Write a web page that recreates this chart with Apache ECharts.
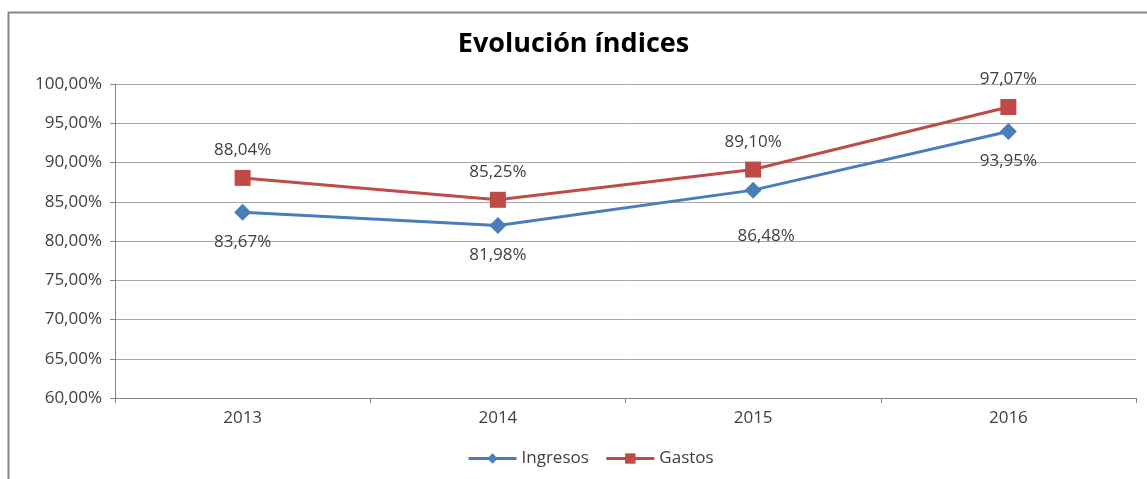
<!DOCTYPE html>
<html>
<head>
<meta charset="utf-8">
<title>Evolución índices</title>
<script src="https://cdn.jsdelivr.net/npm/echarts@6/dist/echarts.min.js"></script>
<style>
  html, body { margin: 0; padding: 0; background: #fff; }
  #main { width: 1147px; height: 479px; }
</style>
</head>
<body>
<div id="main"></div>
<script>
// datos
var years = ['2013', '2014', '2015', '2016'];
var ingresos = [83.67, 81.98, 86.48, 93.95];
var gastos = [88.04, 85.25, 89.10, 97.07];

function pct(v) {
    return v.toFixed(2).replace('.', ',') + '%';
}

var txt = '#404040';
var font = 'Open Sans';
var fs = 17;

// la etiqueta de 2015 (ingresos) esta movida mas abajo en el original
var ingresosData = ingresos.map(function (v, i) {
    if (i == 2) return { value: v, label: { offset: [13, 16] } };
    return v;
});

var myChart = echarts.init(document.getElementById('main'));
var option = {
    animation: false,
    backgroundColor: '#fff',
    graphic: [{
        type: 'rect',
        shape: { x: 8.5, y: 12.5, width: 1160, height: 500 },
        style: { fill: 'none', stroke: '#868686', lineWidth: 2 }
    }],
    title: {
        text: 'Evolución índices',
        left: 'center',
        top: 26,
        textStyle: { fontFamily: font, fontSize: 27, fontWeight: 'bold', color: '#000' }
    },
    legend: {
        bottom: 7,
        left: 462,
        itemWidth: 48,
        itemHeight: 13,
        itemGap: 16,
        lineStyle: { width: 3 },
        textStyle: { fontFamily: font, fontSize: fs, color: txt },
        data: ['Ingresos', 'Gastos']
    },
    grid: { left: 115, right: 11, top: 84, bottom: 81, containLabel: false },
    xAxis: {
        type: 'category',
        data: years,
        boundaryGap: true,
        axisLine: { lineStyle: { color: '#868686', width: 1 } },
        axisTick: { show: true, length: 5, lineStyle: { color: '#868686' } },
        axisLabel: { fontFamily: font, fontSize: fs, color: txt, margin: 12 }
    },
    yAxis: {
        type: 'value',
        min: 60,
        max: 100,
        interval: 5,
        axisLine: { show: true, lineStyle: { color: '#868686', width: 1 } },
        axisTick: { show: true, length: 5, lineStyle: { color: '#868686' } },
        splitLine: { lineStyle: { color: '#a6a6a6', width: 1 } },
        axisLabel: {
            fontFamily: font, fontSize: fs, color: txt, margin: 13,
            formatter: function (v) { return pct(v); }
        }
    },
    series: [
        {
            name: 'Ingresos',
            type: 'line',
            data: ingresosData,
            symbol: 'diamond',
            symbolSize: 17,
            lineStyle: { width: 3, color: '#4a7ebb' },
            itemStyle: { color: '#4a7ebb' },
            label: {
                show: true, position: 'bottom', distance: 13,
                fontFamily: font, fontSize: fs, color: txt,
                formatter: function (p) { return pct(p.value); }
            }
        },
        {
            name: 'Gastos',
            type: 'line',
            data: gastos,
            symbol: 'rect',
            symbolSize: 16,
            lineStyle: { width: 3, color: '#be4b48' },
            itemStyle: { color: '#be4b48' },
            label: {
                show: true, position: 'top', distance: 11,
                fontFamily: font, fontSize: fs, color: txt,
                formatter: function (p) { return pct(p.value); }
            }
        }
    ]
};
myChart.setOption(option);
</script>
</body>
</html>
